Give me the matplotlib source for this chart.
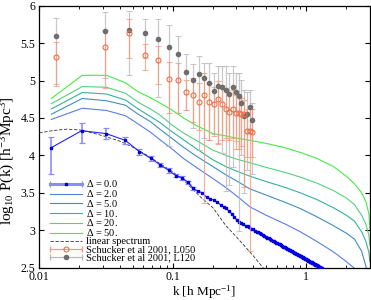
import matplotlib
matplotlib.use('Agg')
import matplotlib.pyplot as plt
from matplotlib.lines import Line2D
from matplotlib.legend_handler import HandlerLine2D, HandlerTuple
from matplotlib.ticker import LogLocator, FuncFormatter, MultipleLocator, NullFormatter

plt.rcParams['font.family'] = ['Liberation Serif', 'DejaVu Serif']
plt.rcParams['mathtext.fontset'] = 'custom'
plt.rcParams['mathtext.rm'] = 'Liberation Serif'
plt.rcParams['mathtext.it'] = 'Liberation Serif:italic'

# Delta = 0.0 (simulation, with error bars on the first bins)
k0 = [0.0122, 0.0208, 0.0318, 0.0441, 0.0563, 0.0686, 0.0809, 0.0932, 0.1054, 0.1177,
      0.1300, 0.1423, 0.1545, 0.1668, 0.1791, 0.1913, 0.2036, 0.2159, 0.2282, 0.2404,
      0.2527, 0.2650, 0.2773, 0.2895, 0.3018, 0.3141, 0.3263, 0.3386, 0.3509, 0.3632,
      0.3754, 0.3877, 0.4000, 0.4123, 0.4245, 0.4368, 0.4491, 0.4613, 0.4736, 0.4859,
      0.4982, 0.5104, 0.5227, 0.5350, 0.5472, 0.5595, 0.5718, 0.5841, 0.5963, 0.6086,
      0.6209, 0.6332, 0.6454, 0.6577, 0.6700, 0.6822, 0.6945, 0.7068, 0.7191, 0.7313,
      0.7436, 0.7559, 0.7681, 0.7804, 0.7927, 0.8050, 0.8172, 0.8295, 0.8418, 0.8540,
      0.8663, 0.8786, 0.8909, 0.9031, 0.9154, 0.9277, 0.9400, 0.9522, 0.9645, 0.9768,
      0.9890, 1.0013, 1.0136, 1.0259, 1.0381, 1.0504, 1.0627, 1.0749, 1.0872, 1.0995,
      1.1118, 1.1240, 1.1363, 1.1486, 1.1609, 1.1731, 1.1854, 1.1977, 1.2099, 1.2222,
      1.2345, 1.2467, 1.2590, 1.2713, 1.2836, 1.2958, 1.3081]
p0 = [4.10, 4.33, 4.29, 4.20, 4.05, 3.96, 3.87, 3.80, 3.73, 3.70,
      3.64, 3.56, 3.52, 3.50, 3.44, 3.42, 3.40, 3.37, 3.34, 3.31,
      3.29, 3.25, 3.22, 3.17, 3.14, 3.11, 3.10, 3.08, 3.06, 3.05,
      3.04, 3.02, 3.01, 2.99, 2.98, 2.97, 2.96, 2.95, 2.93, 2.92,
      2.91, 2.90, 2.89, 2.88, 2.87, 2.86, 2.85, 2.84, 2.83, 2.83,
      2.82, 2.81, 2.80, 2.79, 2.78, 2.78, 2.77, 2.76, 2.75, 2.75,
      2.74, 2.73, 2.72, 2.72, 2.71, 2.70, 2.70, 2.69, 2.68, 2.68,
      2.67, 2.67, 2.66, 2.65, 2.65, 2.64, 2.64, 2.63, 2.63, 2.62,
      2.61, 2.61, 2.60, 2.60, 2.59, 2.59, 2.58, 2.58, 2.57, 2.57,
      2.56, 2.56, 2.55, 2.55, 2.55, 2.54, 2.54, 2.53, 2.53, 2.52,
      2.52, 2.51, 2.51, 2.51, 2.50, 2.50, 2.49]
# errors on the first bins (where they are visible)
p0_err_lo = [0.35, 0.17, 0.07, 0.05, 0.04, 0.035, 0.03, 0.03, 0.025, 0.025, 0.02, 0.02]
p0_err_hi = [0.14, 0.10, 0.07, 0.05, 0.04, 0.035, 0.03, 0.03, 0.025, 0.025, 0.02, 0.02]

# biased spectra, Delta = 2 ... 50
kd = [0.0123, 0.0210, 0.0318, 0.0442, 0.055, 0.068, 0.080, 0.098, 0.12, 0.15, 0.20, 0.25,
      0.30, 0.38, 0.50, 0.70, 0.90, 1.20, 1.60, 2.00, 2.30, 2.60, 2.80, 2.95, 3.00]
pd2 = [4.48, 4.63, 4.60, 4.53, 4.42, 4.31, 4.21, 4.09, 3.96, 3.84, 3.69, 3.57,
       3.46, 3.31, 3.20, 3.08, 2.98, 2.85, 2.71, 2.58, 2.49, 2.38, 2.30, 2.22, 2.15]
pd5 = [4.55, 4.76, 4.73, 4.67, 4.55, 4.45, 4.35, 4.23, 4.11, 3.99, 3.85, 3.74,
       3.66, 3.55, 3.47, 3.37, 3.29, 3.18, 3.06, 2.96, 2.88, 2.72, 2.52, 2.35, 2.25]
pd10 = [4.62, 4.84, 4.82, 4.74, 4.62, 4.52, 4.44, 4.32, 4.21, 4.09, 3.94, 3.85,
        3.79, 3.72, 3.65, 3.57, 3.50, 3.41, 3.30, 3.20, 3.12, 2.98, 2.85, 2.70, 2.58]
pd20 = [4.69, 4.92, 4.91, 4.83, 4.71, 4.62, 4.54, 4.41, 4.30, 4.20, 4.07, 4.00,
        3.95, 3.90, 3.84, 3.77, 3.71, 3.63, 3.53, 3.43, 3.34, 3.20, 3.08, 2.93, 2.80]
pd50 = [4.76, 5.07, 5.07, 4.97, 4.85, 4.77, 4.70, 4.61, 4.50, 4.40, 4.29, 4.26,
        4.23, 4.20, 4.16, 4.10, 4.04, 3.96, 3.85, 3.72, 3.62, 3.50, 3.38, 3.22, 3.02]

# linear spectrum
k_lin = [0.010, 0.0125, 0.016, 0.020, 0.025, 0.0316, 0.040, 0.050, 0.063, 0.080,
         0.100, 0.125, 0.160, 0.200, 0.250, 0.300, 0.400, 0.500]
p_lin = [4.30, 4.33, 4.35, 4.34, 4.30, 4.25, 4.19, 4.11, 4.01, 3.89,
         3.78, 3.64, 3.45, 3.30, 3.06, 2.91, 2.66, 2.45]

# Schucker et al 2001 (shared k bins)
k_s = [0.0133, 0.0313, 0.0473, 0.0624, 0.0780, 0.0944, 0.1096, 0.1247, 0.1409, 0.1563,
       0.1710, 0.1866, 0.2037, 0.2181, 0.2333, 0.2497, 0.2661, 0.2818, 0.2985, 0.3126,
       0.3273, 0.3443, 0.3586, 0.3802, 0.3936]
p050 = [5.32, 5.45, 5.63, 5.34, 5.27, 5.02, 5.01, 4.85, 4.81, 4.71,
        4.80, 4.71, 4.69, 4.75, 4.69, 4.62, 4.58, 4.62, 4.56, 4.56,
        4.55, 4.55, 4.32, 4.33, 4.31]
p050_hi = [5.52, 5.68, 5.82, 5.49, 5.46, 5.25, 5.24, 5.01, 5.03, 4.97,
           5.10, 4.97, 4.92, 5.00, 4.94, 4.87, 4.83, 4.87, 4.80, 4.78,
           4.76, 4.74, 4.62, 4.62, 4.62]
p050_lo = [4.93, 4.90, 5.30, 5.14, 4.96, 4.57, 4.57, 4.61, 4.44, 4.34,
           3.36, 4.21, 4.26, 4.15, 4.21, 4.23, 4.21, 4.23, 4.09, 4.09,
           4.13, 3.58, 3.98, 2.72, 3.98]
p120 = [5.60, 5.66, 5.68, 5.63, 5.55, 5.45, 5.35, 5.12, 5.01, 5.09,
        5.04, 4.97, 4.86, 4.93, 4.91, 4.88, 4.82, 4.91, 4.85, 4.79,
        4.70, 4.52, 4.55, 4.64, 4.47]
p120_hi = [5.84, 5.91, 5.93, 5.82, 5.82, 5.74, 5.60, 5.36, 5.22, 5.33,
           5.24, 5.24, 5.10, 5.19, 5.19, 5.19, 5.10, 5.19, 5.10, 5.10,
           5.01, 4.87, 4.85, 4.87, 4.70]
p120_lo = [4.95, 5.03, 5.07, 5.30, 4.78, 4.12, 4.56, 4.60, 4.36, 4.07,
           4.23, 4.21, 4.29, 4.16, 4.03, 3.52, 3.60, 3.85, 4.19, 2.99,
           4.00, 3.50, 3.80, 4.20, 3.75]

delta_labels = [r'$\Delta$ = 2.0', r'$\Delta$ = 5.0', r'$\Delta$ = 10.', r'$\Delta$ = 20.', r'$\Delta$ = 50.']
delta_colors = ['#5a7ee8', '#3f8ec6', '#35b29a', '#55d07c', '#44ec44']

fig = plt.figure(figsize=(3.71, 3.0), dpi=100)
ax = fig.add_axes([0.106, 0.108, 0.891, 0.873])

# biased spectra
for y, c in zip([pd2, pd5, pd10, pd20, pd50], delta_colors):
    ax.plot(kd, y, color=c, lw=0.8, zorder=2)

# linear spectrum
ax.plot(k_lin, p_lin, color='#333333', lw=0.6, ls=(0, (4, 2)), zorder=3)

# Delta = 0
c0_line, c0_err, c0_mk = '#2222ff', '#8c8cff', '#0000e0'
n_err = len(p0_err_lo)
ax.errorbar(k0[:n_err], p0[:n_err], yerr=[p0_err_lo, p0_err_hi], fmt='none',
            ecolor=c0_err, elinewidth=1.2, capsize=2.4, capthick=0.9, zorder=4)
ax.plot(k0, p0, color=c0_line, lw=0.8, marker='s', ms=1.8, mfc=c0_mk, mec=c0_mk, zorder=5)

# Schucker et al data
c120_mk, c120_err = '#6e6e6e', '#b8b8b8'
c050_mk, c050_err = '#ee7048', '#f39a76'
err120 = [[a - b for a, b in zip(p120, p120_lo)], [b - a for a, b in zip(p120, p120_hi)]]
err050 = [[a - b for a, b in zip(p050, p050_lo)], [b - a for a, b in zip(p050, p050_hi)]]
ax.errorbar(k_s, p120, yerr=err120, fmt='none', ecolor=c120_err, elinewidth=0.9,
            capsize=2.2, capthick=0.8, alpha=0.75, zorder=6)
ax.errorbar(k_s, p050, yerr=err050, fmt='none', ecolor=c050_err, elinewidth=0.9,
            capsize=2.2, capthick=0.8, alpha=0.75, zorder=7)
ax.plot(k_s, p120, ls='none', marker='o', ms=3.0, mfc=c120_mk, mec=c120_mk, zorder=8)
ax.plot(k_s, p050, ls='none', marker='o', ms=3.6, mfc='none', mec=c050_mk, mew=0.8, zorder=9)

ax.set_xscale('log')
ax.set_xlim(0.01, 3.0)
ax.set_ylim(2.5, 6.0)
ax.xaxis.set_major_locator(LogLocator(base=10))
ax.xaxis.set_minor_locator(LogLocator(base=10, subs=range(2, 10)))
ax.xaxis.set_major_formatter(FuncFormatter(lambda v, p: '%g' % v))
ax.xaxis.set_minor_formatter(NullFormatter())
ax.yaxis.set_major_locator(MultipleLocator(0.5))
ax.yaxis.set_major_formatter(FuncFormatter(lambda v, p: '%g' % v))
ax.tick_params(which='both', direction='in', top=True, right=True, labelsize=8.5, pad=3)
ax.tick_params(axis='x', which='both', pad=2.5)
ax.tick_params(which='major', length=3.5, width=0.8)
ax.tick_params(which='minor', length=2, width=0.6)
for s in ax.spines.values():
    s.set_linewidth(0.9)

ax.set_xlabel(r'k [h Mpc$^{-1}$]', fontsize=9.5)
ax.xaxis.set_label_coords(0.5, -0.06, transform=ax.transAxes)
ax.xaxis.label.set_va('top')
ax.set_ylabel(r'log$_{10}$ P(k) [h$^{-3}$Mpc$^{3}$]', fontsize=11)
ax.yaxis.set_label_coords(-0.068, 0.41)

# legend in gnuplot style (horizontal bar with end caps for data with errors)
h0_bar = Line2D([], [], color=c0_err, lw=2.2, marker='|', ms=5, mew=0.9)
h0_mk = Line2D([], [], ls='none', marker='s', ms=1.8, color=c0_mk)
h_delta = [Line2D([], [], color=c, lw=0.8) for c in delta_colors]
h_lin = Line2D([], [], color='#333333', lw=0.6, ls=(0, (4, 2)))
h050_bar = Line2D([], [], color=c050_err, lw=0.9, marker='|', ms=5, mew=0.9)
h050_mk = Line2D([], [], ls='none', marker='o', ms=3.6, mfc='none', mec=c050_mk, mew=0.8)
h120_bar = Line2D([], [], color=c120_err, lw=0.9, marker='|', ms=5, mew=0.9)
h120_mk = Line2D([], [], ls='none', marker='o', ms=3.0, mfc=c120_mk, mec=c120_mk)

handles = [(h0_bar, h0_mk)] + h_delta + [h_lin, (h050_bar, h050_mk), (h120_bar, h120_mk)]
labels = [r'$\Delta$ = 0.0'] + delta_labels + ['linear spectrum',
                                              'Schucker et al 2001, L050',
                                              'Schucker et al 2001, L120']
hmap = {h0_bar: HandlerLine2D(numpoints=2, marker_pad=0),
        h050_bar: HandlerLine2D(numpoints=2, marker_pad=0),
        h120_bar: HandlerLine2D(numpoints=2, marker_pad=0),
        h0_mk: HandlerLine2D(numpoints=1),
        h050_mk: HandlerLine2D(numpoints=1),
        h120_mk: HandlerLine2D(numpoints=1),
        tuple: HandlerTuple(ndivide=1)}
leg = ax.legend(handles, labels, handler_map=hmap, loc='lower left',
                bbox_to_anchor=(0.032, 0.02), borderaxespad=0, borderpad=0,
                frameon=False, fontsize=7.5, handlelength=3.1, handletextpad=0.35,
                labelspacing=-0.12)

fig.savefig('out.png', dpi=100)
